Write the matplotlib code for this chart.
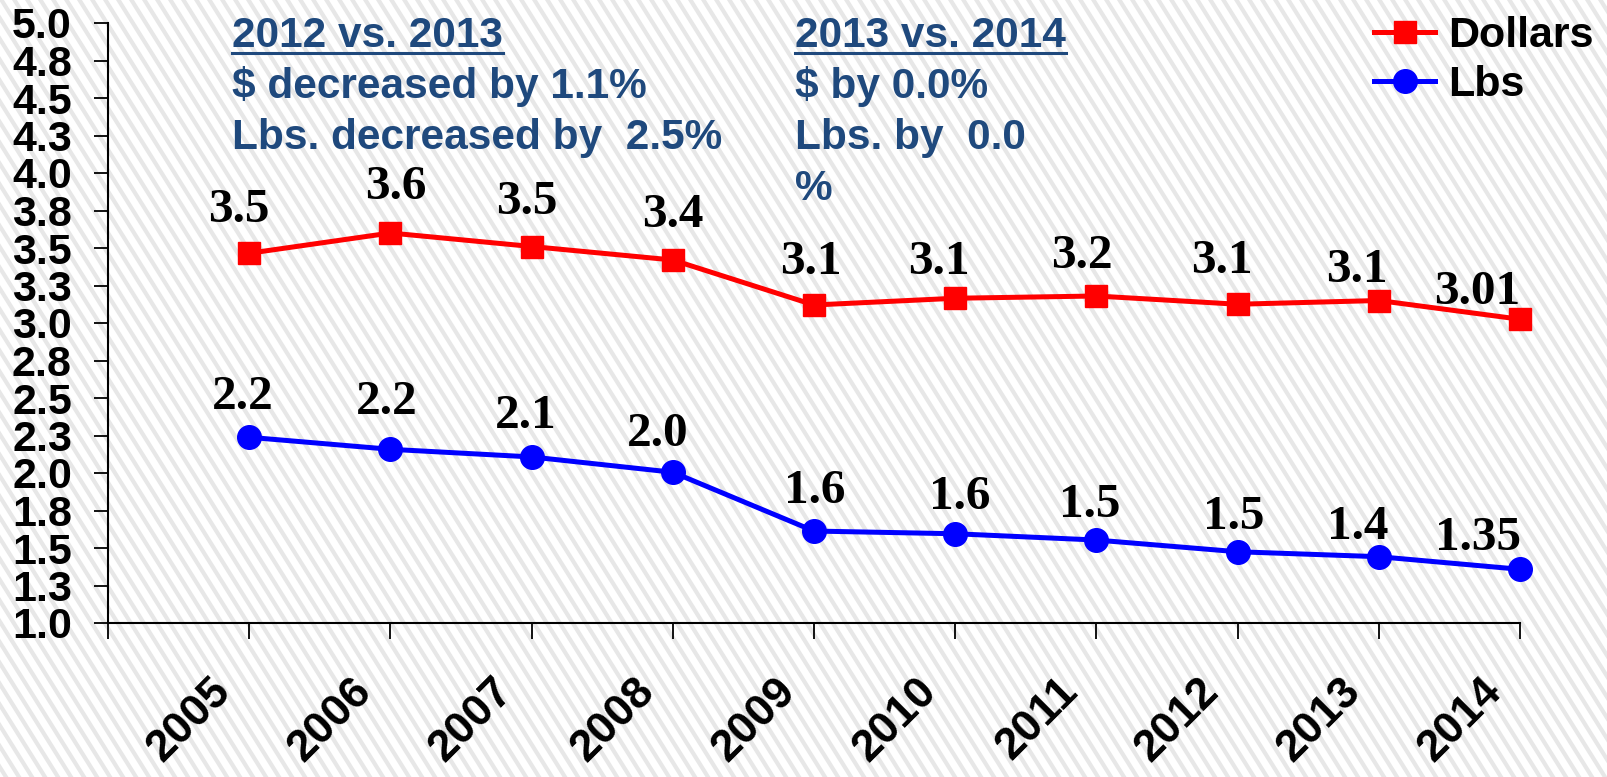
import numpy as np
import matplotlib
matplotlib.use('Agg')
import matplotlib.pyplot as plt
from matplotlib.lines import Line2D
from matplotlib.transforms import ScaledTranslation

years = ['2005', '2006', '2007', '2008', '2009', '2010', '2011', '2012', '2013', '2014']
dollars = [3.465, 3.60, 3.51, 3.42, 3.12, 3.165, 3.18, 3.125, 3.15, 3.025]
lbs = [2.238, 2.158, 2.107, 2.005, 1.613, 1.595, 1.553, 1.475, 1.442, 1.358]
dollar_labels = ['3.5', '3.6', '3.5', '3.4', '3.1', '3.1', '3.2', '3.1', '3.1', '3.01']
lbs_labels = ['2.2', '2.2', '2.1', '2.0', '1.6', '1.6', '1.5', '1.5', '1.4', '1.35']
ytick_vals = [1.0, 1.25, 1.5, 1.75, 2.0, 2.25, 2.5, 2.75, 3.0, 3.25, 3.5, 3.75,
              4.0, 4.25, 4.5, 4.75, 5.0]
ytick_text = ['1.0', '1.3', '1.5', '1.8', '2.0', '2.3', '2.5', '2.8', '3.0', '3.3',
              '3.5', '3.8', '4.0', '4.3', '4.5', '4.8', '5.0']
note_left = ['2012 vs. 2013', '$ decreased by 1.1%', 'Lbs. decreased by  2.5%']
note_right = ['2013 vs. 2014', '$ by 0.0%', 'Lbs. by  0.0', '%']

# hand placed data label offsets in pixels (x, up), as in the source
dollar_off = [(-10, 31), (5, 34), (-5, 33), (0, 33), (-3, 31),
              (-16, 24), (-15, 28), (-16, 31), (-22, 19), (-43, 15)]
lbs_off = [(-6, 28), (-4, 35), (-6, 29), (-15, 26), (1, 28),
           (5, 25), (-7, 23), (-4, 23), (-21, 18), (-42, 19)]

W, H = 1608, 777
sans = 'Liberation Sans'
serif = 'Liberation Serif'
navy = '#1F497D'
px = 0.72  # points per pixel at dpi 100

fig = plt.figure(figsize=(W / 100, H / 100), dpi=100)
fig.patch.set_facecolor('white')

# diagonal striped background
ang = np.deg2rad(58)
run = H / np.tan(ang)
for x0 in np.arange(-run - 20, W + 20, 13):
    fig.add_artist(Line2D([x0 / W, (x0 + run) / W], [1, 0], transform=fig.transFigure,
                          color='#e7e7e7', lw=3.0, zorder=-10))

ax = fig.add_axes([108 / W, 1 - 623 / H, (1520 - 108) / W, (623 - 23) / H])
ax.patch.set_alpha(0)
x = np.arange(1, len(years) + 1)

ax.plot(x, dollars, color='#ff0000', lw=3.6, marker='s', ms=16, label='Dollars',
        clip_on=False, zorder=3)
ax.plot(x, lbs, color='#0000ff', lw=3.6, marker='o', ms=17, label='Lbs',
        clip_on=False, zorder=3)

for vals, labs, offs in [(dollars, dollar_labels, dollar_off), (lbs, lbs_labels, lbs_off)]:
    for xi, v, t, (dx, dy) in zip(x, vals, labs, offs):
        ax.annotate(t, (xi, v), xytext=(dx * px, dy * px), textcoords='offset points',
                    ha='center', va='baseline', fontsize=35.5, fontweight='bold',
                    family=serif)

ax.set_xlim(0, 10)
ax.set_ylim(1, 5)
ax.set_yticks(ytick_vals)
ax.set_yticklabels(ytick_text, fontsize=31, fontweight='bold', family=sans)
ax.set_xticks(np.arange(0, 11))
ax.set_xticklabels([''] + years, fontsize=32, fontweight='bold', family=sans,
                   rotation=45, ha='right', va='center', rotation_mode='anchor')

ax.tick_params(axis='y', direction='out', length=10, width=1.3, pad=16)
ax.tick_params(axis='x', direction='out', length=11.5, width=1.3, pad=33)
off = ScaledTranslation(-25 / 100, 0, fig.dpi_scale_trans)
for lab in ax.get_xticklabels():
    lab.set_transform(lab.get_transform() + off)
for s in ['top', 'right']:
    ax.spines[s].set_visible(False)
for s in ['left', 'bottom']:
    ax.spines[s].set_linewidth(1.5)


# comparison notes
def notes(lines, left):
    for i, t in enumerate(lines):
        y = 1 - (47 + 51 * i) / H
        txt = fig.text(left / W, y, t, color=navy, fontsize=30.5, fontweight='bold',
                       family=sans, va='baseline', ha='left')
        if i == 0:
            fig.canvas.draw()
            bb = txt.get_window_extent()
            fig.add_artist(Line2D([bb.x0 / W, bb.x1 / W], [1 - 53 / H] * 2,
                                  transform=fig.transFigure, color=navy, lw=2.2))


notes(note_left, 232)
notes(note_right, 795)

leg = fig.legend(loc='upper left', bbox_to_anchor=(1374 / W, 1 - 16 / H), frameon=False,
                 prop={'family': sans, 'weight': 'bold', 'size': 31}, handlelength=1.42,
                 handletextpad=0.3, labelspacing=0.2, borderpad=0, borderaxespad=0)

fig.savefig('out.png', dpi=100, facecolor='white')
